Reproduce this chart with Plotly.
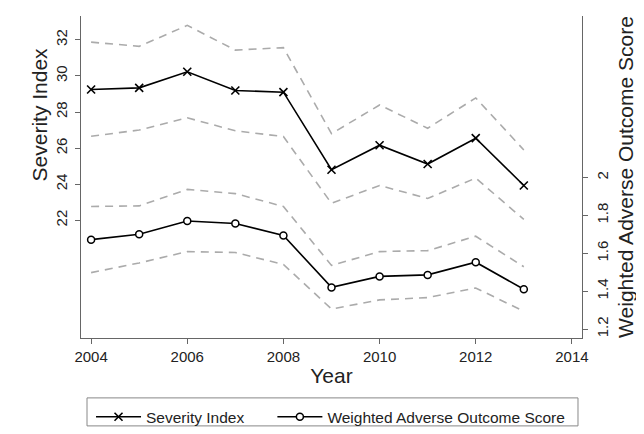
import plotly.graph_objects as go

years = [2004, 2005, 2006, 2007, 2008, 2009, 2010, 2011, 2012, 2013]

severity = [29.25, 29.34, 30.23, 29.19, 29.10, 24.80, 26.16, 25.12, 26.55, 23.93]
severity_upper = [31.87, 31.64, 32.80, 31.43, 31.57, 26.80, 28.39, 27.10, 28.78, 25.90]
severity_lower = [26.66, 27.00, 27.68, 26.96, 26.64, 22.94, 23.93, 23.21, 24.34, 22.05]

waos = [1.672, 1.700, 1.770, 1.757, 1.694, 1.420, 1.478, 1.486, 1.553, 1.410]
waos_upper = [1.847, 1.850, 1.937, 1.915, 1.847, 1.536, 1.609, 1.614, 1.690, 1.529]
waos_lower = [1.498, 1.549, 1.609, 1.604, 1.541, 1.306, 1.354, 1.366, 1.417, 1.294]

left_ticks = [22, 24, 26, 28, 30, 32]
right_ticks = [1.2, 1.4, 1.6, 1.8, 2.0]
right_ticktext = ["1.2", "1.4", "1.6", "1.8", "2"]
x_ticks = [2004, 2006, 2008, 2010, 2012, 2014]

FONT = "Liberation Sans, Arial, sans-serif"
TXT = "#222"
ci_line = dict(color="#ababab", width=1.6, dash="8px,6px")

fig = go.Figure()

for ys in (severity_upper, severity_lower):
    fig.add_trace(go.Scatter(x=years, y=ys, mode="lines", line=ci_line,
                             showlegend=False, hoverinfo="skip", yaxis="y"))
for ys in (waos_upper, waos_lower):
    fig.add_trace(go.Scatter(x=years, y=ys, mode="lines", line=ci_line,
                             showlegend=False, hoverinfo="skip", yaxis="y2"))

fig.add_trace(go.Scatter(
    x=years, y=severity, mode="lines+markers", name="Severity Index",
    line=dict(color="black", width=1.6),
    marker=dict(symbol="x-thin-open", size=8, line=dict(color="black", width=1.6)),
    yaxis="y", legend="legend"))
fig.add_trace(go.Scatter(
    x=years, y=waos, mode="lines+markers", name="Weighted Adverse Outcome Score",
    line=dict(color="black", width=1.6),
    marker=dict(symbol="circle", size=7, color="white", line=dict(color="black", width=1.5)),
    yaxis="y2", legend="legend2"))

legend_common = dict(
    orientation="h", y=-0.193, yanchor="top", xanchor="left",
    borderwidth=0, bgcolor="rgba(0,0,0,0)",
    font=dict(size=15.5, color=TXT, family=FONT),
    itemwidth=45,
)

fig.update_layout(
    width=644, height=434,
    margin=dict(l=73, r=70, t=8, b=93),
    paper_bgcolor="white", plot_bgcolor="white",
    font=dict(family=FONT, color=TXT, size=15),
    xaxis=dict(
        range=[2003.79, 2014.21], tickvals=x_ticks,
        showline=True, linecolor="#666", linewidth=1.2, mirror=False,
        ticks="outside", ticklen=5, tickcolor="#666",
        showgrid=False, zeroline=False,
        tickfont=dict(size=15, color=TXT),
        title=dict(text="Year", font=dict(size=21, color=TXT), standoff=4),
    ),
    yaxis=dict(
        range=[15.48, 33.32], tickvals=left_ticks,
        showline=True, linecolor="#666", linewidth=1.2,
        ticks="outside", ticklen=5, tickcolor="#666",
        showgrid=False, zeroline=False, tickangle=-90,
        tickfont=dict(size=15, color=TXT), ticklabelstandoff=2,
    ),
    yaxis2=dict(
        range=[1.153, 2.852], tickvals=right_ticks, ticktext=right_ticktext,
        overlaying="y", side="right",
        showline=True, linecolor="#666", linewidth=1.2,
        ticks="outside", ticklen=5, tickcolor="#666",
        showgrid=False, zeroline=False, tickangle=-90,
        tickfont=dict(size=15, color=TXT), ticklabelstandoff=2,
        title=dict(text="Weighted Adverse Outcome Score", font=dict(size=21, color=TXT), standoff=8),
    ),
    legend=dict(x=0.02, **legend_common),
    legend2=dict(x=0.382, **legend_common),
    annotations=[dict(
        text="Severity Index", textangle=-90, showarrow=False,
        xref="paper", yref="paper", x=-0.082, y=0.694,
        xanchor="center", yanchor="middle",
        font=dict(size=21, color=TXT, family=FONT),
    )],
    shapes=[dict(
        type="rect", xref="paper", yref="paper",
        x0=0.012, x1=0.992, y0=-0.273, y1=-0.186,
        line=dict(color="#888", width=1), fillcolor="rgba(0,0,0,0)", layer="below",
    )],
)

fig.write_html("out.html")
